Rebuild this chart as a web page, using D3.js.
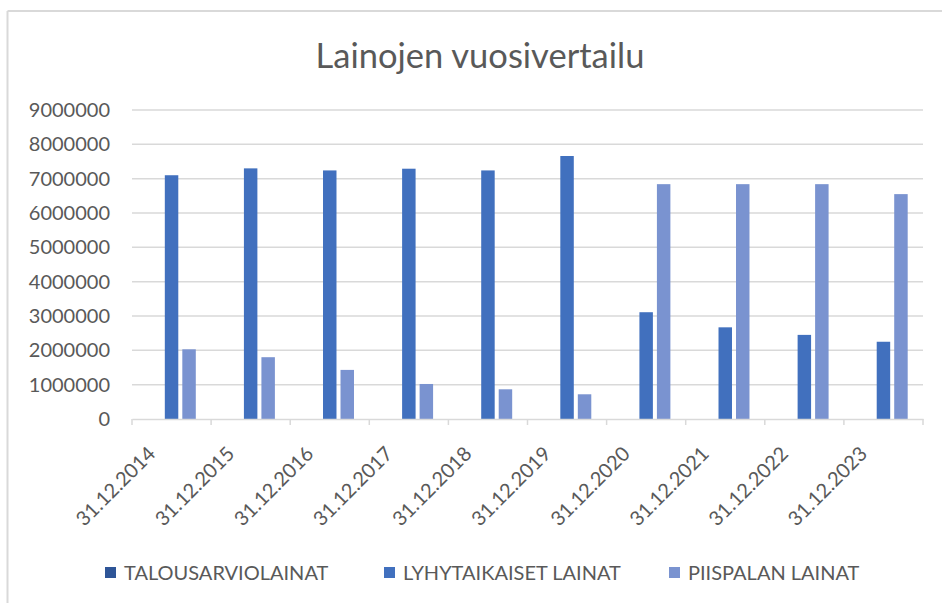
<!DOCTYPE html>
<html>
<head>
<meta charset="utf-8">
<script src="https://cdn.jsdelivr.net/npm/d3@7"></script>
<style>
  html, body { margin: 0; padding: 0; background: #fff; }
  svg { display: block; }
  text { font-family: Lato, "Open Sans", "Noto Sans", sans-serif; fill: #595959; }
</style>
</head>
<body>
<svg id="chart" width="942" height="603"></svg>
<script>
const title = "Lainojen vuosivertailu";
const categories = ["31.12.2014","31.12.2015","31.12.2016","31.12.2017","31.12.2018","31.12.2019","31.12.2020","31.12.2021","31.12.2022","31.12.2023"];
const seriesNames = ["TALOUSARVIOLAINAT","LYHYTAIKAISET LAINAT","PIISPALAN LAINAT"];
const talousarviolainat = [0,0,0,0,0,0,0,0,0,0];
const lyhytaikaisetLainat = [7100000,7300000,7240000,7290000,7240000,7660000,3110000,2670000,2450000,2250000];
const piispalanLainat = [2030000,1800000,1430000,1020000,865000,720000,6840000,6840000,6840000,6550000];
const yTicks = [0,1000000,2000000,3000000,4000000,5000000,6000000,7000000,8000000,9000000];
const colors = ["#2E5597","#4170BE","#7A93D0"];

const seriesValues = [talousarviolainat, lyhytaikaisetLainat, piispalanLainat];

const svg = d3.select("#chart");
const margin = {left: 132, right: 942 - 923, top: 110, bottom: 603 - 419};
const W = 942, H = 603;

// chart area border (top and left visible)
svg.append("line").attr("x1", 7.5).attr("x2", W).attr("y1", 11).attr("y2", 11)
  .attr("stroke", "#d9d9d9").attr("stroke-width", 2);
svg.append("line").attr("x1", 7.5).attr("x2", 7.5).attr("y1", 11).attr("y2", H)
  .attr("stroke", "#d9d9d9").attr("stroke-width", 2);

svg.append("text").attr("x", 480).attr("y", 68).attr("text-anchor", "middle")
  .style("font-size", "34.5px").text(title);

const x0 = d3.scaleBand().domain(categories).range([margin.left, W - margin.right]).paddingInner(0).paddingOuter(0);
const x1 = d3.scaleBand().domain(seriesNames).range([0, x0.bandwidth()]).paddingInner(0.23).paddingOuter(0.875);
const y = d3.scaleLinear().domain([0, 9000000]).range([H - margin.bottom, margin.top]);

// gridlines
svg.append("g").selectAll("line").data(yTicks.slice(1)).join("line")
  .attr("x1", margin.left).attr("x2", W - margin.right)
  .attr("y1", d => y(d)).attr("y2", d => y(d))
  .attr("stroke", "#d9d9d9").attr("stroke-width", 1.5);

// y labels
const yAxis = d3.axisLeft(y).tickValues(yTicks).tickFormat(d3.format("d")).tickSize(0).tickPadding(22);
const gy = svg.append("g").attr("transform", `translate(${margin.left},0)`).call(yAxis);
gy.select(".domain").remove();
gy.selectAll("text").style("font-size", "20px").attr("fill", "#595959");

// bars
const groups = svg.append("g").selectAll("g").data(categories).join("g")
  .attr("transform", d => `translate(${x0(d)},0)`);
groups.selectAll("rect").data((d, i) => seriesNames.map((s, j) => ({s, v: seriesValues[j][i], j})))
  .join("rect")
  .attr("x", d => x1(d.s)).attr("width", x1.bandwidth())
  .attr("y", d => y(d.v)).attr("height", d => y(0) - y(d.v))
  .attr("fill", d => colors[d.j]);

// x axis
const xAxis = d3.axisBottom(x0).tickSize(0).tickFormat(d => d);
const gx = svg.append("g").attr("transform", `translate(0,${y(0)})`).call(xAxis);
gx.select(".domain").attr("stroke", "#d9d9d9").attr("stroke-width", 1.5);
gx.selectAll(".tick text").style("font-size", "20px").attr("fill", "#595959")
  .attr("text-anchor", "end")
  .attr("transform", "translate(-25,26) rotate(-45)")
  .attr("dy", "0.71em").attr("y", 0).attr("x", 0);
// boundary tick marks
const bounds = categories.map(c => x0(c)).concat([x0(categories[categories.length-1]) + x0.bandwidth()]);
svg.append("g").selectAll("line").data(bounds).join("line")
  .attr("x1", d => d).attr("x2", d => d).attr("y1", y(0)).attr("y2", y(0) + 6)
  .attr("stroke", "#d9d9d9").attr("stroke-width", 1.5);

// legend
const legendX = [105, 384, 669];
const lg = svg.append("g").selectAll("g").data(seriesNames).join("g")
  .attr("transform", (d, i) => `translate(${legendX[i]},567)`);
lg.append("rect").attr("width", 11).attr("height", 11).attr("y", 0).attr("fill", (d, i) => colors[i]);
lg.append("text").attr("x", 19).attr("y", 13).style("font-size", "20px").text(d => d);
</script>
</body>
</html>
